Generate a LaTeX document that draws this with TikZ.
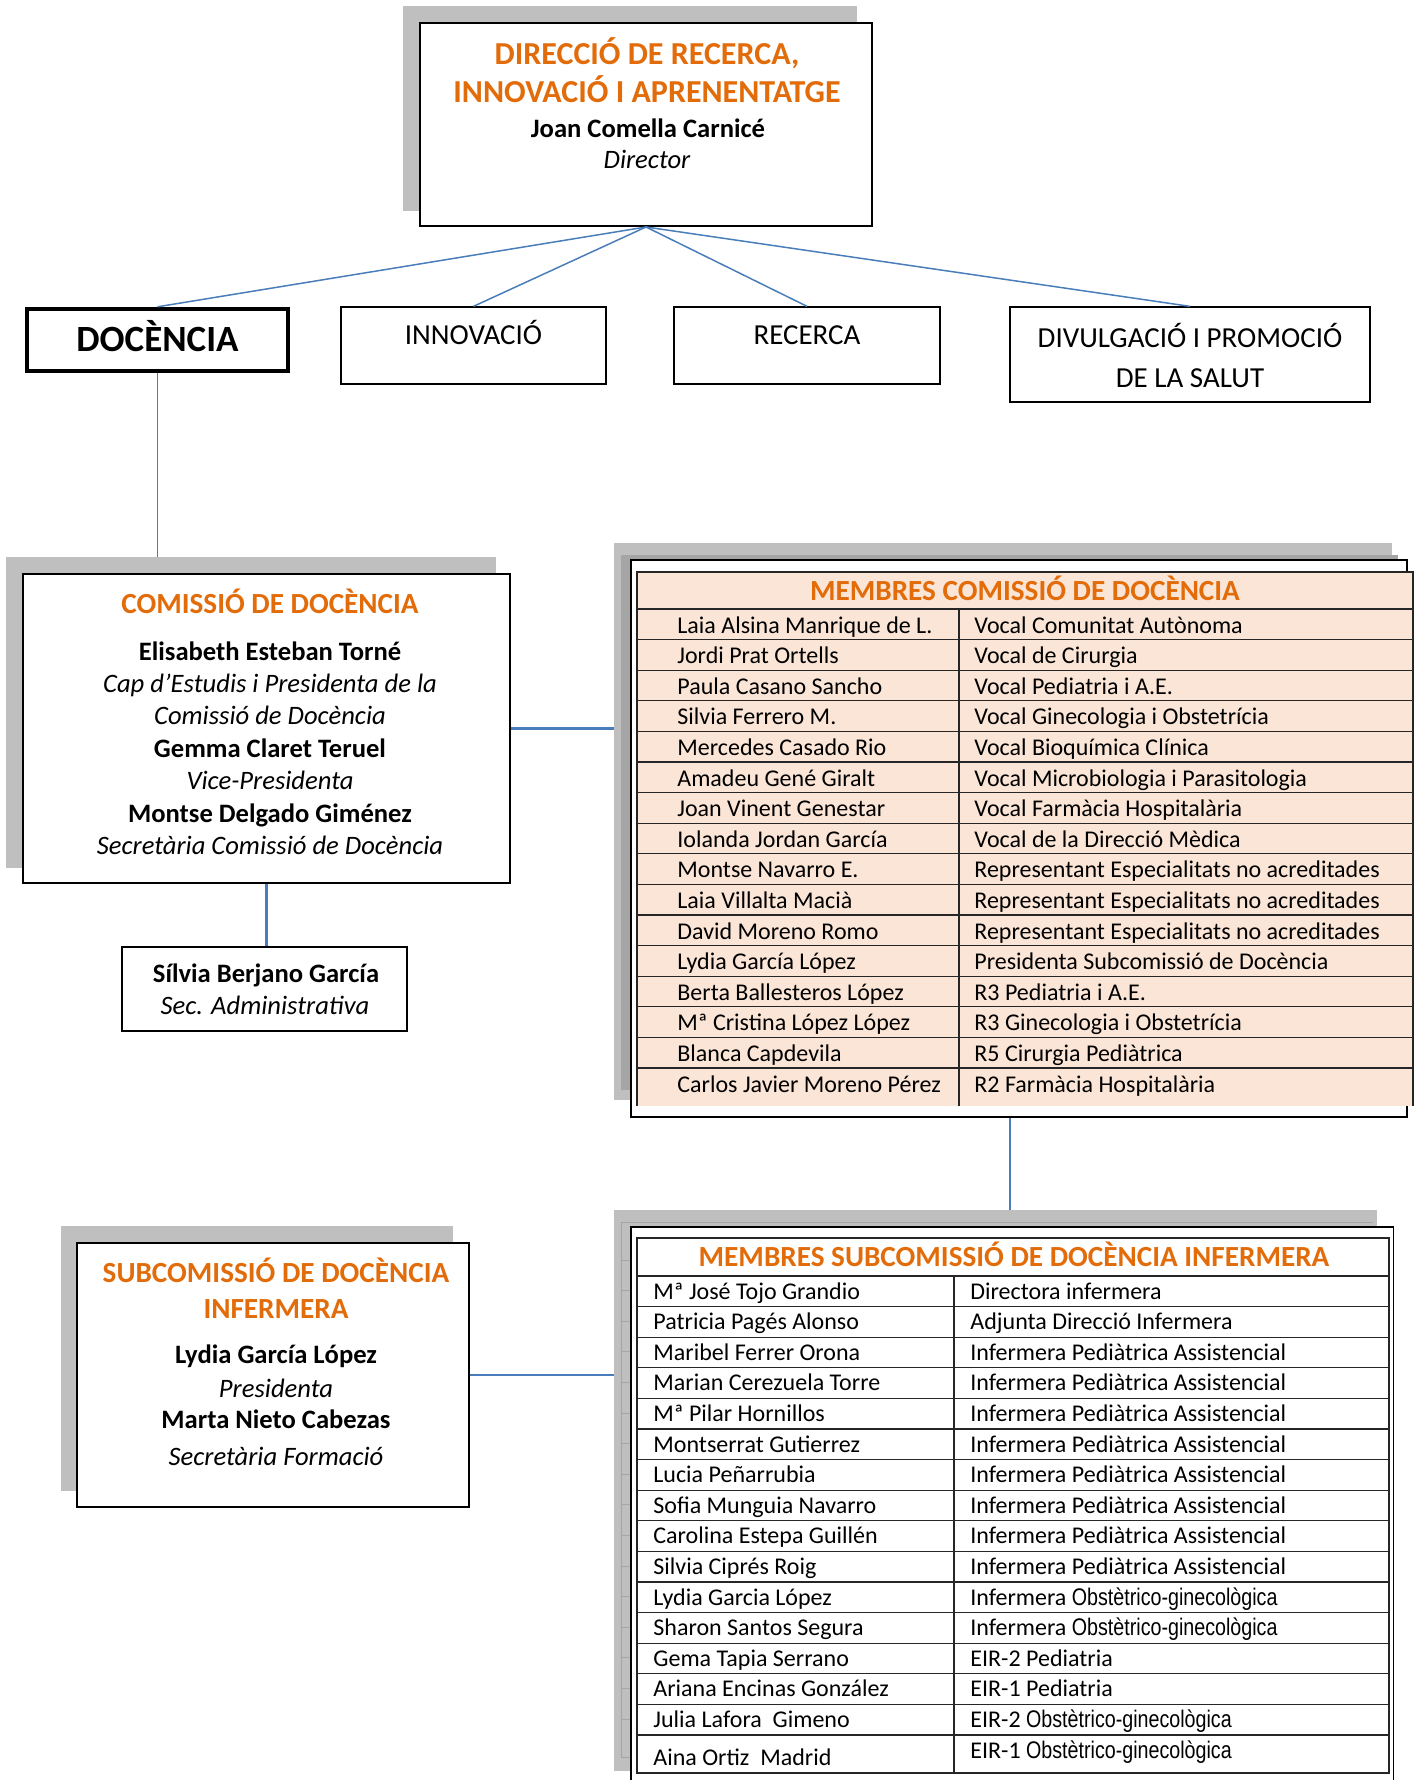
\documentclass[tikz,border=0pt]{standalone}
\usepackage{fontspec}
\setmainfont{Carlito}
\newfontfamily\narrowfont[FakeStretch=0.82]{Liberation Sans}
\usetikzlibrary{fit}

\definecolor{shadowgray}{HTML}{BFBFBF}
\definecolor{framegray}{HTML}{A5A5A5}
\definecolor{linkblue}{HTML}{4A7EBB}
\definecolor{orangetext}{HTML}{E36C0A}
\definecolor{peach}{HTML}{FBE5D6}

\tikzset{
  backdrop/.style={fill=shadowgray, inner sep=0pt},
  box/.style={draw, fill=white, line width=0.65pt, inner sep=0pt},
  link/.style={draw=linkblue, line width=0.75pt},
  boldlink/.style={draw=linkblue, line width=1.1pt},
  rule/.style={draw=black!85, line width=0.6pt},
  head/.style={anchor=base, inner sep=0pt, text=orangetext, font=\bfseries\fontsize{14.6}{17}\selectfont},
  person/.style={anchor=base, inner sep=0pt, font=\bfseries\fontsize{13.3}{16}\selectfont},
  duty/.style={anchor=base, inner sep=0pt, font=\itshape\fontsize{13.3}{16}\selectfont},
  unit/.style={anchor=base, inner sep=0pt, font=\fontsize{14.5}{17}\selectfont},
  cell/.style={anchor=base west, inner sep=0pt, font=\fontsize{12}{14}\selectfont},
}

\begin{document}
\begin{tikzpicture}[x=0.5pt, y=-0.5pt]
		\useasboundingbox (0,0) rectangle (1417,1780);
		
		% direccio
		\node[backdrop, fit={(403,6) (857,211)}] (dirshadow) {};
		\node[box, line width=1pt, fit={(420,23) (872,226)}] (dir) {};
		\node[head, font=\bfseries\fontsize{16}{19}\selectfont] (dirA) at (647,65) {DIRECCIÓ DE RECERCA,};
		\node[head, font=\bfseries\fontsize{16}{19}\selectfont] (dirB) at (647,103) {INNOVACIÓ I APRENENTATGE};
		\node[person] (dirC) at (648,138) {Joan Comella Carnicé};
		\node[duty] (dirD) at (647,169) {Director};
		
		% arees
		\node[box, line width=2.2pt, fit={(27,309) (288,371)}] (doc) {};
		\node[unit, font=\bfseries\fontsize{18.5}{22}\selectfont] (docT) at (157.5,352) {DOCÈNCIA};
		\node[box, fit={(341,307) (606,384)}] (innov) {};
		\node[unit] (innovT) at (473.5,345) {INNOVACIÓ};
		\node[box, fit={(674,307) (940,384)}] (recer) {};
		\node[unit] (recerT) at (807,345) {RECERCA};
		\node[box, fit={(1010,307) (1370,402)}] (divul) {};
		\node[unit] (divulA) at (1190,348) {DIVULGACIÓ I PROMOCIÓ};
		\node[unit] (divulB) at (1190,388) {DE LA SALUT};
		
		\foreach \area in {doc,innov,recer,divul}
			\draw[link] (dir.south) -- (\area.north);
		
		% comissio
		\node[backdrop, fit={(6,557) (496,868)}] (comshadow) {};
		\node[box, line width=1pt, fit={(23,574) (510,883)}] (com) {};
		\node[head] (comA) at (270,613) {COMISSIÓ DE DOCÈNCIA};
		\node[person] (comB) at (270,660) {Elisabeth Esteban Torné};
		\node[duty] (comC) at (270,692) {Cap d’Estudis i Presidenta de la};
		\node[duty] (comD) at (270,724) {Comissió de Docència};
		\node[person] (comE) at (270,757) {Gemma Claret Teruel};
		\node[duty] (comF) at (270,789) {Vice-Presidenta};
		\node[person] (comG) at (270,822) {Montse Delgado Giménez};
		\node[duty] (comH) at (270,854) {Secretària Comissió de Docència};
		
		\node[box, line width=1pt, fit={(121.5,947) (406.5,1031)}] (silvia) {};
		\node[person] (silA) at (266,982) {Sílvia Berjano García};
		\node[duty] (silB) at (265,1014) {Sec. Administrativa};
		
		% subcomissio
		\node[backdrop, fit={(61,1226) (453,1491)}] (subshadowL) {};
		\node[box, line width=1pt, fit={(77,1243) (469,1507)}] (sub) {};
		\node[head] (subA) at (276,1282) {SUBCOMISSIÓ DE DOCÈNCIA};
		\node[head] (subB) at (276,1318) {INFERMERA};
		\node[person] (subC) at (276,1363) {Lydia García López};
		\node[duty] (subD) at (276,1397) {Presidenta};
		\node[person] (subE) at (276,1428) {Marta Nieto Cabezas};
		\node[duty] (subF) at (276,1465) {Secretària Formació};
		
		% membres comissio
		\node[backdrop, fit={(614,543) (1392,1100)}] (memshadow) {};
		\node[fill=framegray, inner sep=0pt, fit={(621,555) (1398,1090)}] (memghost) {};
		\node[box, line width=0.9pt, fit={(631,560) (1407,1117)}] (memframe) {};
		\fill[peach] (637,572) rectangle (1413,1106);
		\draw[rule] (637,1106) -- (637,572) -- (1413,572) -- (1413,1106);
		\draw[rule] (637,609) -- (1413,609);
		\foreach \k in {1,...,15}
			\draw[rule] (637,609+30.6*\k) -- (1413,609+30.6*\k);
		\draw[rule] (959,609) -- (959,1106);
		\node[head] (memhead) at (1025,600) {MEMBRES COMISSIÓ DE DOCÈNCIA};
		\foreach \who/\what [count=\i] in {
			Laia Alsina Manrique de L./Vocal Comunitat Autònoma,
			Jordi Prat Ortells/Vocal de Cirurgia,
			Paula Casano Sancho/Vocal Pediatria i A.E.,
			Silvia Ferrero M./Vocal Ginecologia i Obstetrícia,
			Mercedes Casado Rio/Vocal Bioquímica Clínica,
			Amadeu Gené Giralt/Vocal Microbiologia i Parasitologia,
			Joan Vinent Genestar/Vocal Farmàcia Hospitalària,
			Iolanda Jordan García/Vocal de la Direcció Mèdica,
			Montse Navarro E./Representant Especialitats no acreditades,
			Laia Villalta Macià/Representant Especialitats no acreditades,
			David Moreno Romo/Representant Especialitats no acreditades,
			Lydia García López/Presidenta Subcomissió de Docència,
			Berta Ballesteros López/R3 Pediatria i A.E.,
			Mª Cristina López López/R3 Ginecologia i Obstetrícia,
			Blanca Capdevila/R5 Cirurgia Pediàtrica,
			Carlos Javier Moreno Pérez/R2 Farmàcia Hospitalària}
		{
			\node[cell] (ma\i) at (677,602.4+30.6*\i) {\who};
			\node[cell] (mb\i) at (974,602.4+30.6*\i) {\what};
		}
		
		% membres subcomissio
		\node[backdrop, fit={(614,1210) (1377,1771)}] (subshadow) {};
		\draw[framegray, line width=0.5pt] (621,1757) |- (1373,1222);
		\foreach \k in {0,...,15}
			\draw[framegray, line width=0.5pt] (621,1260+30.6*\k) -- (631,1260+30.6*\k);
		\draw[framegray, line width=0.5pt] (621,1757) -- (631,1757);
		\node[fill=white, inner sep=0pt, fit={(631,1227) (1393,1780)}] (subbox) {};
		\draw[line width=0.9pt] (subbox.south west) |- (subbox.north east) -- (subbox.south east);
		\draw[rule] (637,1238) rectangle (1389,1773);
		\draw[rule] (637,1276) -- (1389,1276);
		\foreach \k in {1,...,15}
			\draw[rule] (637,1276+30.6*\k) -- (1389,1276+30.6*\k);
		\draw[rule] (954,1276) -- (954,1773);
		\node[head] (subhead) at (1014,1266) {MEMBRES SUBCOMISSIÓ DE DOCÈNCIA INFERMERA};
		\foreach \who/\what [count=\i] in {
			Mª José Tojo Grandio/Directora infermera,
			Patricia Pagés Alonso/Adjunta Direcció Infermera,
			Maribel Ferrer Orona/Infermera Pediàtrica Assistencial,
			Marian Cerezuela Torre/Infermera Pediàtrica Assistencial,
			Mª Pilar Hornillos/Infermera Pediàtrica Assistencial,
			Montserrat Gutierrez/Infermera Pediàtrica Assistencial,
			Lucia Peñarrubia/Infermera Pediàtrica Assistencial,
			Sofia Munguia Navarro/Infermera Pediàtrica Assistencial,
			Carolina Estepa Guillén/Infermera Pediàtrica Assistencial,
			Silvia Ciprés Roig/Infermera Pediàtrica Assistencial,
			Lydia Garcia López/Infermera {\narrowfont Obstètrico-ginecològica},
			Sharon Santos Segura/Infermera {\narrowfont Obstètrico-ginecològica},
			Gema Tapia Serrano/EIR-2 Pediatria,
			Ariana Encinas González/EIR-1 Pediatria,
			Julia Lafora\ \ Gimeno/EIR-2 {\narrowfont Obstètrico-ginecològica},
			Aina Ortiz\ \ Madrid/EIR-1 {\narrowfont Obstètrico-ginecològica}}
		{
			\pgfmathsetmacro\lift{(\i==16)*7}
			\node[cell] (sa\i) at (653,1268.4+30.6*\i+\lift) {\who};
			\node[cell] (sb\i) at (970,1268.4+30.6*\i) {\what};
		}
		
		% connectors
		\draw[link] (doc.south) -- (doc.south |- comshadow.north);
		\draw[boldlink] (com.east) -- (com.east -| memshadow.west);
		\draw[boldlink] (com.south) -- (com.south |- silvia.north);
		\draw[boldlink] ([xshift=-4.5pt]memframe.south) -- ([xshift=-4.5pt]memframe.south |- subshadow.north);
		\draw[boldlink] (sub.east) -- (sub.east -| subshadow.west);
	\end{tikzpicture}
\end{document}
